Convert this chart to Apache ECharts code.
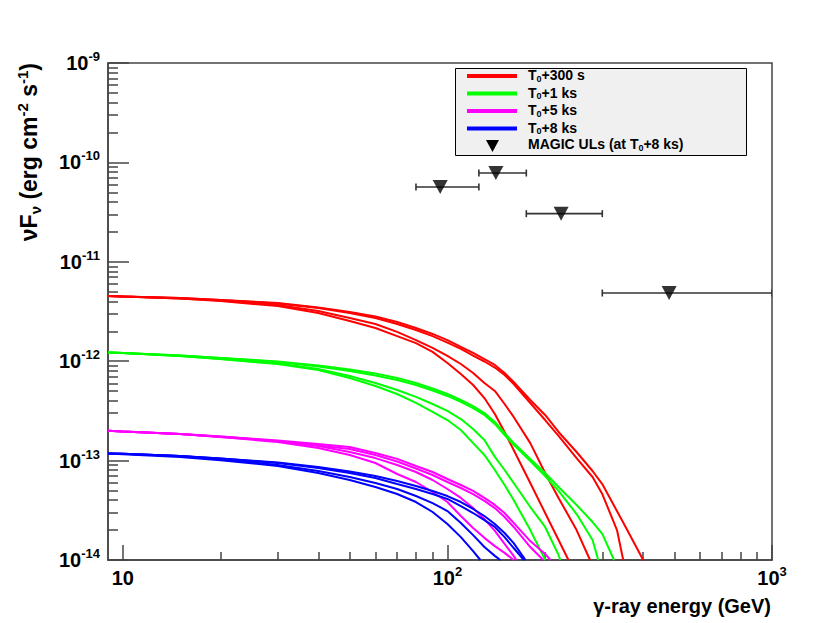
<!DOCTYPE html>
<html>
<head>
<meta charset="utf-8">
<script src="https://cdn.jsdelivr.net/npm/echarts@6/dist/echarts.min.js"></script>
<style>html,body{margin:0;padding:0;background:#fff;}#chart{width:830px;height:623px;}</style>
</head>
<body>
<div id="chart"></div>
<script>
// ---------- data (energy in GeV, nuFnu in erg cm^-2 s^-1) ----------
const xTickLabels = [10, 100, 1000];
const xMinorTicks = [20, 30, 40, 50, 60, 70, 80, 90, 200, 300, 400, 500, 600, 700, 800, 900];
const yTickLabels = [1e-14, 1e-13, 1e-12, 1e-11, 1e-10, 1e-9];

const seriesNames = ['T\u2080+300 s', 'T\u2080+1 ks', 'T\u2080+5 ks', 'T\u2080+8 ks'];
const ulName = 'MAGIC ULs (at T\u2080+8 ks)';

// T0+300 s
const e300a = [9,10,15,20,30,40,50,60,70,80,90,100,110,120,130,140,150,160,180,200,220,250,280,300,350,401];
const f300a = [4.53e-12,4.48e-12,4.32e-12,4.13e-12,3.85e-12,3.47e-12,3.13e-12,2.82e-12,2.48e-12,2.16e-12,1.88e-12,1.63e-12,1.39e-12,1.21e-12,1.05e-12,9.16e-13,7.61e-13,6.18e-13,4.07e-13,2.88e-13,1.94e-13,1.22e-13,7.86e-14,5.81e-14,2.30e-14,1e-14];
const e300b = [9,10,15,20,30,40,50,60,70,80,90,100,110,120,130,140,150,160,180,200,220,250,280,300,333,348];
const f300b = [4.53e-12,4.48e-12,4.32e-12,4.13e-12,3.81e-12,3.43e-12,3.06e-12,2.72e-12,2.37e-12,2.06e-12,1.79e-12,1.54e-12,1.33e-12,1.14e-12,9.93e-13,8.64e-13,7.26e-13,5.90e-13,3.80e-13,2.56e-13,1.77e-13,1.06e-13,6.84e-14,4.61e-14,2.00e-14,1e-14];
const e300c = [9,10,15,20,30,40,50,60,70,80,90,100,110,120,130,140,150,160,180,200,220,250,275];
const f300c = [4.53e-12,4.48e-12,4.27e-12,4.08e-12,3.68e-12,3.20e-12,2.72e-12,2.37e-12,1.97e-12,1.63e-12,1.36e-12,1.13e-12,9.37e-13,7.61e-13,6.04e-13,5.02e-13,3.71e-13,2.75e-13,1.50e-13,7.50e-14,4.21e-14,2.00e-14,1e-14];
const e300d = [9,10,15,20,30,40,50,60,70,80,90,100,110,120,130,140,150,160,180,200,220,236];
const f300d = [4.53e-12,4.48e-12,4.27e-12,4.03e-12,3.59e-12,3.06e-12,2.54e-12,2.16e-12,1.79e-12,1.52e-12,1.24e-12,9.59e-13,7.43e-13,5.76e-13,4.26e-13,2.94e-13,1.94e-13,1.28e-13,5.95e-14,2.97e-14,1.59e-14,1e-14];

// T0+1 ks
const e1ka = [9,10,15,20,30,40,50,60,70,80,90,100,110,120,130,140,150,160,180,200,220,250,280,300,326];
const f1ka = [1.22e-12,1.21e-12,1.14e-12,1.08e-12,9.93e-13,9.05e-13,8.25e-13,7.52e-13,6.78e-13,6.04e-13,5.31e-13,4.68e-13,4.07e-13,3.54e-13,3.01e-13,2.45e-13,1.90e-13,1.50e-13,1.04e-13,7.50e-14,5.43e-14,3.58e-14,2.41e-14,1.83e-14,1e-14];
const e1kb = [9,10,15,20,30,40,50,60,70,80,90,100,110,120,130,140,150,160,180,200,220,250,280,291.5];
const f1kb = [1.22e-12,1.21e-12,1.14e-12,1.08e-12,9.82e-13,8.84e-13,7.97e-13,7.18e-13,6.47e-13,5.76e-13,5.07e-13,4.47e-13,3.89e-13,3.38e-13,2.88e-13,2.34e-13,1.81e-13,1.44e-13,9.91e-14,7.00e-14,4.95e-14,2.90e-14,1.59e-14,1e-14];
const e1kc = [9,10,15,20,30,40,50,60,70,80,90,100,110,120,130,140,150,160,180,200,220,222.7];
const f1kc = [1.22e-12,1.21e-12,1.13e-12,1.05e-12,9.48e-13,8.35e-13,7.10e-13,6.04e-13,5.13e-13,4.37e-13,3.71e-13,3.16e-13,2.62e-13,2.08e-13,1.61e-13,1.09e-13,8.04e-14,5.95e-14,3.41e-14,2.15e-14,1.12e-14,1e-14];
const e1kd = [9,10,15,20,30,40,50,60,70,80,90,100,110,120,130,140,150,160,180,200.2];
const f1kd = [1.22e-12,1.21e-12,1.13e-12,1.05e-12,9.37e-13,8.16e-13,6.78e-13,5.63e-13,4.68e-13,3.80e-13,3.09e-13,2.56e-13,2.03e-13,1.50e-13,1.14e-13,8.04e-14,5.68e-14,4.01e-14,2.00e-14,1e-14];

// T0+5 ks
const e5ka = [9,10,15,20,30,40,50,60,70,80,90,100,110,120,130,140,150,160,180,200,207.5];
const f5ka = [2.00e-13,1.96e-13,1.85e-13,1.75e-13,1.59e-13,1.47e-13,1.37e-13,1.19e-13,1.04e-13,8.82e-14,7.68e-14,6.53e-14,5.68e-14,4.95e-14,4.21e-14,3.58e-14,2.97e-14,2.36e-14,1.55e-14,1.15e-14,1e-14];
const e5kb = [9,10,15,20,30,40,50,60,70,80,90,100,110,120,130,140,150,160,180,197.4];
const f5kb = [2.00e-13,1.96e-13,1.85e-13,1.75e-13,1.57e-13,1.42e-13,1.31e-13,1.14e-13,9.79e-14,8.33e-14,7.16e-14,6.09e-14,5.30e-14,4.61e-14,3.93e-14,3.33e-14,2.71e-14,2.15e-14,1.35e-14,1e-14];
const e5kc = [9,10,15,20,30,40,50,60,70,80,90,100,110,120,130,140,150,160,163];
const f5kc = [2.00e-13,1.96e-13,1.85e-13,1.73e-13,1.57e-13,1.40e-13,1.22e-13,1.06e-13,9.03e-14,7.68e-14,6.38e-14,5.18e-14,4.21e-14,3.33e-14,2.58e-14,1.96e-14,1.45e-14,1.10e-14,1e-14];
const e5kd = [9,10,15,20,30,40,50,60,70,80,90,100,110,120,130,140,150,160];
const f5kd = [2.00e-13,1.96e-13,1.85e-13,1.73e-13,1.54e-13,1.34e-13,1.14e-13,9.46e-14,7.33e-14,6.09e-14,4.83e-14,3.83e-14,2.77e-14,2.10e-14,1.67e-14,1.38e-14,1.18e-14,1e-14];

// T0+8 ks
const e8ka = [9,10,15,20,30,40,50,60,70,80,90,100,110,120,130,140,150,160,174];
const f8ka = [1.18e-13,1.17e-13,1.11e-13,1.05e-13,9.57e-14,8.62e-14,7.77e-14,7.00e-14,6.23e-14,5.56e-14,4.95e-14,4.40e-14,3.83e-14,3.26e-14,2.77e-14,2.30e-14,1.87e-14,1.48e-14,1e-14];
const e8kb = [9,10,15,20,30,40,50,60,70,80,90,100,110,120,130,140,150,160,172];
const f8kb = [1.18e-13,1.17e-13,1.11e-13,1.05e-13,9.46e-14,8.42e-14,7.50e-14,6.68e-14,5.81e-14,5.18e-14,4.61e-14,4.11e-14,3.49e-14,2.97e-14,2.52e-14,2.15e-14,1.70e-14,1.32e-14,1e-14];
const e8kc = [9,10,15,20,30,40,50,60,70,80,90,100,110,120,130,140,145.5];
const f8kc = [1.18e-13,1.17e-13,1.11e-13,1.04e-13,9.03e-14,7.86e-14,6.84e-14,5.95e-14,5.18e-14,4.40e-14,3.74e-14,3.11e-14,2.36e-14,1.78e-14,1.35e-14,1.10e-14,1e-14];
const e8kd = [9,10,15,20,30,40,50,60,70,80,90,100,110,120,126.3];
const f8kd = [1.18e-13,1.16e-13,1.09e-13,1.01e-13,8.82e-14,7.50e-14,6.38e-14,5.43e-14,4.61e-14,3.83e-14,3.04e-14,2.30e-14,1.70e-14,1.23e-14,1e-14];

// MAGIC upper limits
const ulEnergy = [95, 141, 224, 482];
const ulEnergyLow = [80, 125, 175, 300];
const ulEnergyHigh = [125, 175, 300, 1000];
const ulFlux = [5.65e-11, 7.82e-11, 3.05e-11, 4.85e-12];

// ---------- chart ----------
const colors = ['#ff0000', '#00ff00', '#ff00ff', '#0000ff'];
const curves = [
  [0, e300a, f300a], [0, e300b, f300b], [0, e300c, f300c], [0, e300d, f300d],
  [1, e1ka, f1ka], [1, e1kb, f1kb], [1, e1kc, f1kc], [1, e1kd, f1kd],
  [2, e5ka, f5ka], [2, e5kb, f5kb], [2, e5kc, f5kc], [2, e5kd, f5kd],
  [3, e8ka, f8ka], [3, e8kb, f8kb], [3, e8kc, f8kc], [3, e8kd, f8kd]
];

const FONT = '"Liberation Sans", Arial, Helvetica, sans-serif';
const AX = '#444';

function powLabel(v) {
  const p = Math.round(Math.log10(v));
  if (p === 1) return '10';
  return '10{sup|' + p + '}';
}

const series = curves.map(function (c) {
  return {
    type: 'line', name: seriesNames[c[0]],
    data: c[1].map(function (x, i) { return [x, c[2][i]]; }),
    showSymbol: false, symbol: 'none', clip: true, silent: true,
    lineStyle: { color: colors[c[0]], width: 2 },
    itemStyle: { color: colors[c[0]] }, z: 2
  };
});

series.push({
  type: 'custom', name: ulName + ' bars', silent: true, clip: true, z: 3,
  data: ulEnergy.map(function (e, i) { return [ulEnergyLow[i], ulEnergyHigh[i], ulFlux[i]]; }),
  encode: { x: [0, 1], y: 2 },
  renderItem: function (params, api) {
    const a = api.coord([api.value(0), api.value(2)]);
    const b = api.coord([api.value(1), api.value(2)]);
    const st = { stroke: '#333', lineWidth: 1.6 };
    return { type: 'group', children: [
      { type: 'line', shape: { x1: a[0], y1: a[1], x2: b[0], y2: b[1] }, style: st },
      { type: 'line', shape: { x1: a[0], y1: a[1] - 3.5, x2: a[0], y2: a[1] + 3.5 }, style: st },
      { type: 'line', shape: { x1: b[0], y1: b[1] - 3.5, x2: b[0], y2: b[1] + 3.5 }, style: st }
    ] };
  }
});
series.push({
  type: 'scatter', name: ulName, silent: true, z: 4,
  data: ulEnergy.map(function (e, i) { return [e, ulFlux[i]]; }),
  symbol: 'triangle', symbolRotate: 180, symbolSize: [15, 14],
  itemStyle: { color: '#000' }
});

const supRich = { sup: { fontSize: 13, fontWeight: 'bold', fontFamily: FONT, color: '#000', verticalAlign: 'top', lineHeight: 13 } };

const legendRows = [76, 93.5, 111, 128.5];
const legendTexts = ['T{sub|0}+300 s', 'T{sub|0}+1 ks', 'T{sub|0}+5 ks', 'T{sub|0}+8 ks'];
const subRich = { sub: { fontSize: 9, fontWeight: 'bold', fontFamily: FONT, fill: '#000', verticalAlign: 'bottom', lineHeight: 10 } };
const graphics = [
  { type: 'rect', shape: { x: 455.5, y: 68.5, width: 291, height: 87 }, style: { fill: '#f0f0f0', stroke: '#000', lineWidth: 1 }, z: 10 }
];
legendRows.forEach(function (y, i) {
  graphics.push({ type: 'line', shape: { x1: 467, y1: y, x2: 517, y2: y }, style: { stroke: colors[i], lineWidth: 4 }, z: 11 });
  graphics.push({ type: 'text', x: 528, y: y - 1, style: { text: legendTexts[i], fontSize: 14, fontWeight: 'bold', fontFamily: FONT, fill: '#000', verticalAlign: 'middle', lineHeight: 16, rich: subRich }, z: 11 });
});
graphics.push({ type: 'polygon', shape: { points: [[486, 140], [499, 140], [492.5, 152]] }, style: { fill: '#000' }, z: 11 });
graphics.push({ type: 'text', x: 528, y: 144, style: { text: 'MAGIC ULs (at T{sub|0}+8 ks)', fontSize: 14, fontWeight: 'bold', fontFamily: FONT, fill: '#000', verticalAlign: 'middle', lineHeight: 16, rich: subRich }, z: 11 });
// axis titles
graphics.push({ type: 'text', x: 771, y: 606, style: { text: '\u03b3-ray energy (GeV)', fontSize: 20, fontWeight: 'bold', fontFamily: FONT, fill: '#000', align: 'right', verticalAlign: 'middle' }, z: 11 });
graphics.push({ type: 'text', x: 29, y: 63, rotation: Math.PI / 2, style: {
  text: '\u03bdF{sub|\u03bd} (erg cm{sup|-2} s{sup|-1})', fontSize: 23, fontWeight: 'bold', fontFamily: FONT, fill: '#000', align: 'right', verticalAlign: 'middle', lineHeight: 28,
  rich: { sub: { fontSize: 15, fontWeight: 'bold', fontFamily: FONT, fill: '#000', verticalAlign: 'bottom', lineHeight: 14 }, sup: { fontSize: 15, fontWeight: 'bold', fontFamily: FONT, fill: '#000', verticalAlign: 'top', lineHeight: 14 } }
}, z: 11 });

const option = {
  animation: false,
  backgroundColor: '#fff',
  grid: { left: 108, right: 58, top: 63, bottom: 63, show: true, borderColor: AX, borderWidth: 1.5, backgroundColor: 'transparent' },
  xAxis: [
    { type: 'log', logBase: 10, min: 9, max: 1000, position: 'bottom',
      axisLine: { show: true, lineStyle: { color: AX, width: 1.5 } },
      axisTick: { show: true, inside: true, length: 15, customValues: xTickLabels, lineStyle: { color: AX, width: 1.5 } },
      axisLabel: { show: true, customValues: xTickLabels, margin: 5, formatter: powLabel, fontSize: 20, fontWeight: 'bold', fontFamily: FONT, color: '#000', lineHeight: 26, rich: supRich },
      splitLine: { show: false }, minorTick: { show: false } },
    { type: 'log', logBase: 10, min: 9, max: 1000, position: 'bottom', offset: 0,
      axisLine: { show: false },
      axisTick: { show: true, inside: true, length: 8, customValues: xMinorTicks, lineStyle: { color: AX, width: 1.5 } },
      axisLabel: { show: false }, splitLine: { show: false } }
  ],
  yAxis: [
    { type: 'log', logBase: 10, min: 1e-14, max: 1e-9, position: 'left',
      axisLine: { show: true, lineStyle: { color: AX, width: 1.5 } },
      axisTick: { show: true, inside: true, length: 21, customValues: yTickLabels, lineStyle: { color: AX, width: 1.5 } },
      axisLabel: { show: true, customValues: yTickLabels, margin: 8, formatter: powLabel, fontSize: 20, fontWeight: 'bold', fontFamily: FONT, color: '#000', lineHeight: 26, rich: supRich },
      splitLine: { show: false } },
    { type: 'log', logBase: 10, min: 1e-14, max: 1e-9, position: 'left', offset: 0,
      axisLine: { show: false },
      axisTick: { show: true, inside: true, length: 10, customValues: (function () { const v = []; for (let p = -14; p < -9; p++) for (let m = 2; m <= 9; m++) v.push(m * Math.pow(10, p)); return v; })(), lineStyle: { color: AX, width: 1.5 } },
      axisLabel: { show: false }, splitLine: { show: false } }
  ],
  series: series,
  graphic: graphics
};

const chart = echarts.init(document.getElementById('chart'), null, { renderer: 'svg', width: 830, height: 623 });
chart.setOption(option);
</script>
</body>
</html>
